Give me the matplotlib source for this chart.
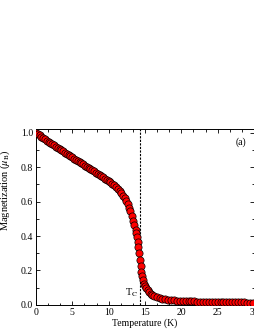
import numpy as np
import matplotlib
matplotlib.use('Agg')
import matplotlib.pyplot as plt
from matplotlib.ticker import MultipleLocator, AutoMinorLocator

plt.rcParams['font.family'] = ['Liberation Serif', 'DejaVu Serif']
plt.rcParams['mathtext.fontset'] = 'stix'

# temperature (K) and magnetization (mu_B)
temp = [0.0, 0.25, 0.5, 0.75, 1.0, 1.25, 1.5, 1.75, 2.0, 2.25, 2.5, 2.75,
        3.0, 3.25, 3.5, 3.75, 4.0, 4.25, 4.5, 4.75, 5.0, 5.25, 5.5, 5.75,
        6.0, 6.25, 6.5, 6.75, 7.0, 7.25, 7.5, 7.75, 8.0, 8.25, 8.5, 8.75,
        9.0, 9.25, 9.5, 9.75, 10.0, 10.25, 10.5, 10.75, 11.0, 11.25, 11.5, 11.75,
        12.0, 12.2, 12.4, 12.6, 12.8, 13.0, 13.2, 13.4, 13.55, 13.7, 13.8, 13.9,
        14.0, 14.1, 14.2, 14.3, 14.4, 14.5, 14.6, 14.75, 14.9, 15.05, 15.2, 15.4,
        15.6, 15.8, 16.0, 16.3, 16.6, 17.0, 17.4, 17.8, 18.2, 18.6, 19.0, 19.4,
        19.8, 20.2, 20.6, 21.0, 21.4, 21.8, 22.2, 22.6, 23.0, 23.4, 23.8, 24.2,
        24.6, 25.0, 25.4, 25.8, 26.2, 26.6, 27.0, 27.4, 27.8, 28.2, 28.6, 29.0,
        29.4, 29.8]
magn = [1.000, 0.992, 0.985, 0.977, 0.970, 0.962, 0.955, 0.948, 0.941, 0.934, 0.927, 0.920,
        0.913, 0.906, 0.899, 0.892, 0.885, 0.878, 0.871, 0.864, 0.857, 0.850, 0.843, 0.837,
        0.830, 0.823, 0.817, 0.810, 0.803, 0.797, 0.790, 0.783, 0.776, 0.769, 0.762, 0.755,
        0.748, 0.741, 0.734, 0.727, 0.720, 0.712, 0.703, 0.694, 0.684, 0.673, 0.661, 0.648,
        0.633, 0.620, 0.604, 0.587, 0.566, 0.543, 0.517, 0.488, 0.462, 0.436, 0.415, 0.392,
        0.365, 0.335, 0.300, 0.262, 0.225, 0.192, 0.166, 0.142, 0.123, 0.108, 0.096, 0.084,
        0.074, 0.066, 0.059, 0.052, 0.046, 0.041, 0.037, 0.034, 0.031, 0.029, 0.027, 0.025,
        0.024, 0.023, 0.022, 0.021, 0.020, 0.020, 0.019, 0.019, 0.018, 0.018, 0.018, 0.017,
        0.017, 0.017, 0.016, 0.016, 0.016, 0.016, 0.015, 0.015, 0.015, 0.015, 0.015, 0.014,
        0.014, 0.014]
t_c = 14.3

fig = plt.figure(figsize=(2.55, 3.3), dpi=100)
ax = fig.add_axes([0.141, 0.076, 0.855, 0.533])

ax.plot(temp, magn, '-', color='red', lw=0.6, zorder=2)
ax.plot(temp, magn, 'o', color='red', mec='black', mew=0.5, ms=5.2, zorder=3)
ax.axvline(t_c, color='black', lw=0.8, ls=(0, (2, 1.2)), zorder=1)

ax.set_xlim(0, 30)
ax.set_ylim(0, 1.022)
ax.xaxis.set_major_locator(MultipleLocator(5))
ax.xaxis.set_minor_locator(AutoMinorLocator(3))
ax.yaxis.set_major_locator(MultipleLocator(0.2))
ax.yaxis.set_minor_locator(AutoMinorLocator(2))
ax.yaxis.set_major_formatter(plt.FormatStrFormatter('%.1f'))
ax.tick_params(which='both', direction='in', top=True, right=True, labelsize=7, pad=2)
ax.tick_params(which='major', length=3, width=0.6)
ax.tick_params(which='minor', length=1.8, width=0.6)
for s in ax.spines.values():
    s.set_linewidth(0.7)

ax.set_xlabel('Temperature (K)', fontsize=7, labelpad=1)
ax.set_ylabel(r'Magnetization ($\mu_{\rm B}$)', fontsize=7.5)
ax.yaxis.set_label_coords(-0.11, 0.65)
ax.text(0.965, 0.95, '(a)', transform=ax.transAxes, fontsize=7, ha='right', va='top')
ax.text(t_c - 0.3, 0.035, r'T$_{\rm C}$', fontsize=7.5, ha='right', va='bottom')

plt.savefig('out.png', dpi=100)
plt.close()
